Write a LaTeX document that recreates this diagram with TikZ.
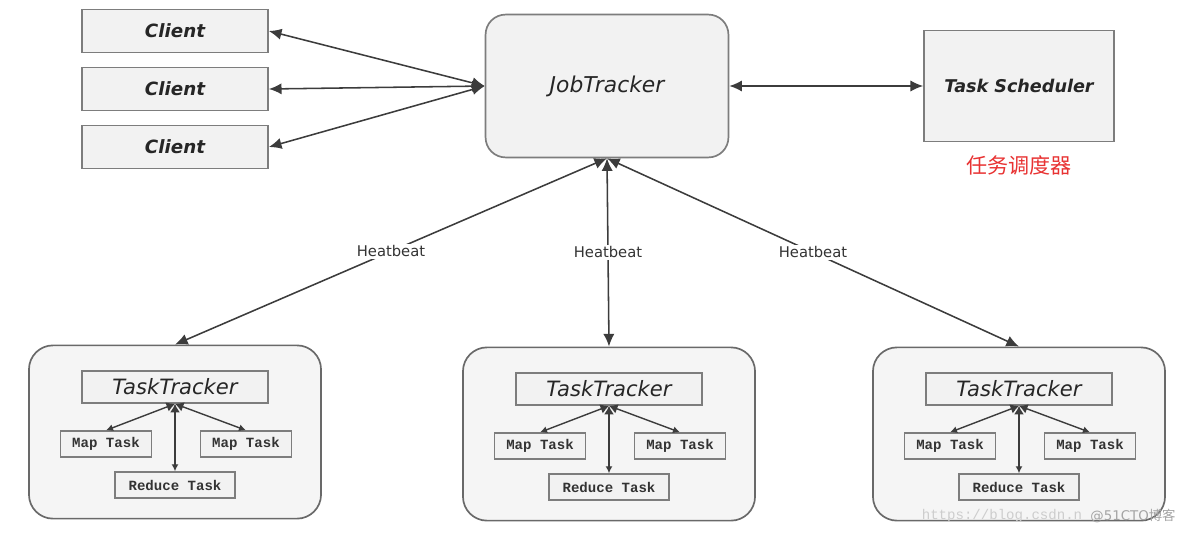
\documentclass[tikz,border=0pt]{standalone}
\usepackage{fontspec}
\setmainfont{DejaVu Sans}
\newfontfamily\cnfont{Noto Sans CJK SC}
\newfontfamily\taskfont{Liberation Mono}
\usetikzlibrary{arrows.meta, positioning}
\definecolor{boxfill}{RGB}{242,242,242}
\definecolor{boxline}{RGB}{125,125,125}
\definecolor{grpfill}{RGB}{245,245,245}
\definecolor{grpline}{RGB}{105,105,105}
\definecolor{arrline}{RGB}{60,60,60}
\definecolor{cnred}{RGB}{232,50,50}
\definecolor{wmark}{RGB}{205,205,205}
\tikzset{
    clientbox/.style={draw=boxline, fill=boxfill, line width=1.2pt, inner sep=0pt,
        minimum width=4.65cm, minimum height=1.07cm, text=black!85,
        font=\fontsize{13}{15}\selectfont\bfseries\itshape},
    jobbox/.style={draw=boxline, fill=boxfill, line width=1.2pt, inner sep=0pt,
        rounded corners=0.5cm, minimum width=6.07cm, minimum height=3.57cm, text=black!85,
        font=\fontsize{15.5}{17}\selectfont\itshape},
    schedbox/.style={draw=boxline, fill=boxfill, line width=1.2pt, inner sep=0pt,
        minimum width=4.75cm, minimum height=2.77cm, text=black!85,
        font=\fontsize{12.5}{15}\selectfont\bfseries\itshape},
    grpbox/.style={draw=grpline, fill=grpfill, line width=1.2pt, inner sep=0pt,
        rounded corners=0.6cm, minimum width=7.3cm, minimum height=4.33cm},
    trackbox/.style={draw=boxline, fill=boxfill, line width=1.2pt, inner sep=0pt,
        minimum width=4.65cm, minimum height=0.8cm, text=black!85,
        font=\fontsize{15}{17}\selectfont\itshape},
    taskbox/.style={draw=boxline, fill=boxfill, line width=1pt, inner sep=0pt,
        minimum height=0.65cm, text=black!80,
        font=\fontsize{10}{11}\selectfont\taskfont\bfseries},
    biarrow/.style={{Latex[length=9pt,width=8pt]}-{Latex[length=9pt,width=8pt]},
        draw=arrline, line width=1.1pt},
    smallarrow/.style={{Latex[length=6pt,width=7pt]}-{Latex[length=5pt,width=5pt]},
        draw=arrline, line width=1pt},
    hblabel/.style={fill=white, inner sep=1pt, text=black!80,
        font=\fontsize{10.5}{12}\selectfont}
}
\begin{document}
\begin{tikzpicture}[x=0.025cm, y=-0.025cm]
    \useasboundingbox (0,0) rectangle (1184,533);
    % master side
    \node[jobbox] (jt) at (607,86) {JobTracker};
    \node[schedbox] (ts) at (1019,86) {Task Scheduler};
    \node[text=cnred, font=\fontsize{15}{17}\selectfont\cnfont, below=0.2cm of ts] (tslabel) {任务调度器};
    \foreach \c/\cy in {1/31, 2/89, 3/147}{
        \node[clientbox] (client\c) at (175,\cy) {Client};
        \draw[biarrow] (client\c.east) -- (jt.west);
    }
    \draw[biarrow] (jt.east) -- (ts.west);
    % task trackers
    \foreach \g/\gx/\gy in {l/175/0, m/609/2, r/1019/2}{
        \node[grpbox] (grp\g) at (\gx,432+\gy) {};
        \node[trackbox] (tt\g) at (\gx,387+\gy) {TaskTracker};
        \node[taskbox, minimum width=2.275cm] (mapa\g) at (\gx-69,444+\gy) {Map Task};
        \node[taskbox, minimum width=2.275cm] (mapb\g) at (\gx+71,444+\gy) {Map Task};
        \node[taskbox, minimum width=3cm] (red\g) at (\gx,485+\gy) {Reduce Task};
        \draw[smallarrow] (tt\g.south) -- (mapa\g.north);
        \draw[smallarrow] (tt\g.south) -- (mapb\g.north);
        \draw[smallarrow] (tt\g.south) -- (red\g.north);
        \draw[biarrow] (jt.south) -- node[hblabel] {Heatbeat} (grp\g.north);
    }
    % watermark
    \node[text=wmark, font=\fontsize{10}{12}\selectfont\taskfont] (wm) at (1002,516) {https://blog.csdn.n};
    \node[text=wmark!80!black, font=\fontsize{9.5}{12}\selectfont] (wm2) at (1133,516) {@51CTO\cnfont 博客};
\end{tikzpicture}
\end{document}
